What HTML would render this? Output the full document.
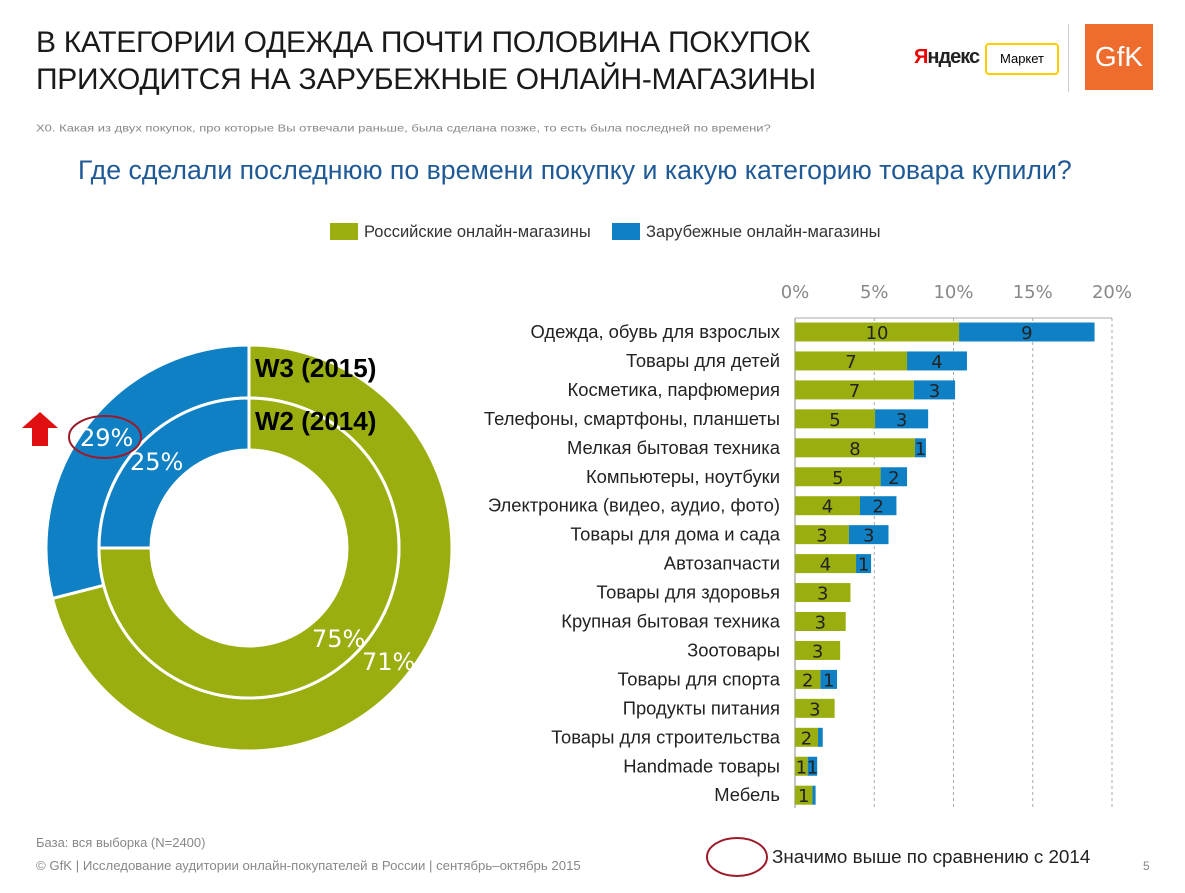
<!DOCTYPE html>
<html><head><meta charset="utf-8">
<style>
body{margin:0;width:1185px;height:893px;background:#fff;font-family:"Liberation Sans",sans-serif;position:relative;overflow:hidden}
.abs{position:absolute;white-space:nowrap}
</style></head><body>
<div class="abs" style="left:36px;top:24px;font-size:30px;line-height:37px;color:#1a1a1a;letter-spacing:-0.3px">В КАТЕГОРИИ ОДЕЖДА ПОЧТИ ПОЛОВИНА ПОКУПОК<br>ПРИХОДИТСЯ НА ЗАРУБЕЖНЫЕ ОНЛАЙН-МАГАЗИНЫ</div>
<div class="abs" style="left:914px;top:46px;font-size:20px;font-weight:bold;color:#222;letter-spacing:-1px"><span style="color:#e00">Я</span>ндекс</div>
<div class="abs" style="left:985px;top:43px;width:70px;height:28px;border:2px solid #fc0;border-radius:4px;font-size:13px;line-height:28px;text-align:center">Маркет</div>
<div class="abs" style="left:1068px;top:24px;width:1px;height:68px;background:#ccc"></div>
<div class="abs" style="left:1085px;top:24px;width:68px;height:66px;background:#ee6c2d;color:#fff;font-size:28px;line-height:66px;text-align:center">GfK</div>
<div class="abs" style="left:36px;top:122px;font-size:13px;color:#888;transform:scaleY(0.8);transform-origin:left top">Х0. Какая из двух покупок, про которые Вы отвечали раньше, была сделана позже, то есть была последней по времени?</div>
<div class="abs" style="left:78px;top:155px;font-size:26.7px;color:#1f5a96">Где сделали последнюю по времени покупку и какую категорию товара купили?</div>
<div class="abs" style="left:330px;top:223px;font-size:16.5px;color:#333"><span style="display:inline-block;width:28px;height:17px;background:#9bae10;vertical-align:-3px;margin-right:6px"></span>Российские онлайн-магазины</div>
<div class="abs" style="left:612px;top:223px;font-size:16.5px;color:#333"><span style="display:inline-block;width:28px;height:17px;background:#0f80c4;vertical-align:-3px;margin-right:6px"></span>Зарубежные онлайн-магазины</div>

<svg class="abs" style="left:0;top:0" width="1185" height="893">
<g id="donut"></g>
<g id="bars"></g>
<polygon points="40,412 22,428 32,428 32,446 48,446 48,428 58,428" fill="#e01010"/>
<ellipse cx="105" cy="437" rx="36" ry="21" fill="none" stroke="#9b1b2a" stroke-width="2"/>
<ellipse cx="737" cy="857" rx="30" ry="19" fill="none" stroke="#9b1b2a" stroke-width="2"/>
</svg>
<div class="abs" style="left:255px;top:353px;font-size:26px;font-weight:bold">W3 (2015)</div>
<div class="abs" style="left:255px;top:406px;font-size:26px;font-weight:bold">W2 (2014)</div>
<div class="abs" style="left:36px;top:835px;font-size:13px;color:#888">База: вся выборка (N=2400)</div>
<div class="abs" style="left:36px;top:858px;font-size:13.2px;color:#888">© GfK | Исследование аудитории онлайн-покупателей в России | сентябрь–октябрь 2015</div>
<div class="abs" style="left:772px;top:846px;font-size:18.8px;color:#222">Значимо выше по сравнению с 2014</div>
<div class="abs" style="left:1143px;top:859px;font-size:12px;color:#888">5</div>
<script>
const NS="http://www.w3.org/2000/svg";
const waves=["W3 (2015)","W2 (2014)"];
const foreignShare=[29,25];
const russianShare=[71,75];
const categories=["Одежда, обувь для взрослых","Товары для детей","Косметика, парфюмерия","Телефоны, смартфоны, планшеты","Мелкая бытовая техника","Компьютеры, ноутбуки","Электроника (видео, аудио, фото)","Товары для дома и сада","Автозапчасти","Товары для здоровья","Крупная бытовая техника","Зоотовары","Товары для спорта","Продукты питания","Товары для строительства","Handmade товары","Мебель"];
const russianVals=[10.35,7.07,7.5,5.05,7.57,5.4,4.1,3.4,3.85,3.5,3.2,2.85,1.6,2.5,1.45,0.8,1.1];
const foreignVals=[8.55,3.78,2.6,3.35,0.69,1.67,2.3,2.5,0.95,0,0,0,1.05,0,0.3,0.6,0.2];
const russianLabels=["10","7","7","5","8","5","4","3","4","3","3","3","2","3","2","1","1"];
const foreignLabels=["9","4","3","3","1","2","2","3","1","","","","1","","","1",""];
const ticks=[0,5,10,15,20];
function mk(t,a,p){const e=document.createElementNS(NS,t);for(const k in a)e.setAttribute(k,a[k]);(p||document.querySelector('svg')).appendChild(e);return e;}
const cx=249,cy=548;const radii=[[150,203],[98,150]];
const dg=document.getElementById('donut');
function arc(r0,r1,a0,a1){const p=(r,a)=>[cx+r*Math.sin(a),cy-r*Math.cos(a)];const L=a1-a0>Math.PI?1:0;const [x1,y1]=p(r1,a0),[x2,y2]=p(r1,a1),[x3,y3]=p(r0,a1),[x4,y4]=p(r0,a0);return `M${x1},${y1}A${r1},${r1} 0 ${L} 1 ${x2},${y2}L${x3},${y3}A${r0},${r0} 0 ${L} 0 ${x4},${y4}Z`;}
waves.forEach((w,i)=>{const [r0,r1]=radii[i];const tot=foreignShare[i]+russianShare[i];
const aF=2*Math.PI*foreignShare[i]/tot;
const g=mk('path',{d:arc(r0,r1,0,2*Math.PI-aF),fill:'#9bae10',stroke:'#fff','stroke-width':3},dg);

const b=mk('path',{d:arc(r0,r1,2*Math.PI-aF,2*Math.PI-0.0001),fill:'#0f80c4',stroke:'#fff','stroke-width':3},dg);
});
[[foreignShare[0]+'%',80,446,24],[foreignShare[1]+'%',130,470,24],[russianShare[1]+'%',312,647,24],[russianShare[0]+'%',362,670,24]].forEach((t,i)=>{const e=mk('text',{x:t[1],y:t[2],'font-size':t[3],fill:'#fff','font-family':'DejaVu Sans'},dg);e.textContent=t[0];
});
const bg=document.getElementById('bars');
const x0=795,pxPer=15.85,y0=332,step=28.95,bh=19;
const X=v=>x0+v*pxPer, Y=i=>y0+i*step;
ticks.forEach(t=>{const l=mk('line',{x1:X(t),x2:X(t),y1:318,y2:808,stroke:'#aaa','stroke-dasharray':'3,3'},bg);
const tx=mk('text',{x:X(t),y:298,'font-size':18,fill:'#888','text-anchor':'middle','font-family':'DejaVu Sans'},bg);tx.textContent=t+'%';});
const ax=mk('line',{x1:x0,x2:X(20),y1:318,y2:318,stroke:'#aaa'},bg);
const ay=mk('line',{x1:x0,x2:x0,y1:318,y2:808,stroke:'#888'},bg);
categories.forEach((c,i)=>{const y=Y(i);
const lb=mk('text',{x:780,y:y+6,'font-size':18.4,fill:'#222','text-anchor':'end','font-family':'Liberation Sans'},bg);lb.textContent=c;
const r=mk('rect',{x:x0,y:y-bh/2,width:russianVals[i]*pxPer,height:bh,fill:'#9bae10'},bg);
const f=mk('rect',{x:X(russianVals[i]),y:y-bh/2,width:foreignVals[i]*pxPer,height:bh,fill:'#0f80c4'},bg);
const t1=mk('text',{x:X(russianVals[i]/2),y:y+7,'font-size':18,fill:'#222','text-anchor':'middle','font-family':'DejaVu Sans'},bg);t1.textContent=russianLabels[i];
if(foreignLabels[i]){const t2=mk('text',{x:X(russianVals[i]+foreignVals[i]/2),y:y+7,'font-size':18,fill:'#222','text-anchor':'middle','font-family':'DejaVu Sans'},bg);t2.textContent=foreignLabels[i];}
});
</script>
</body></html>
